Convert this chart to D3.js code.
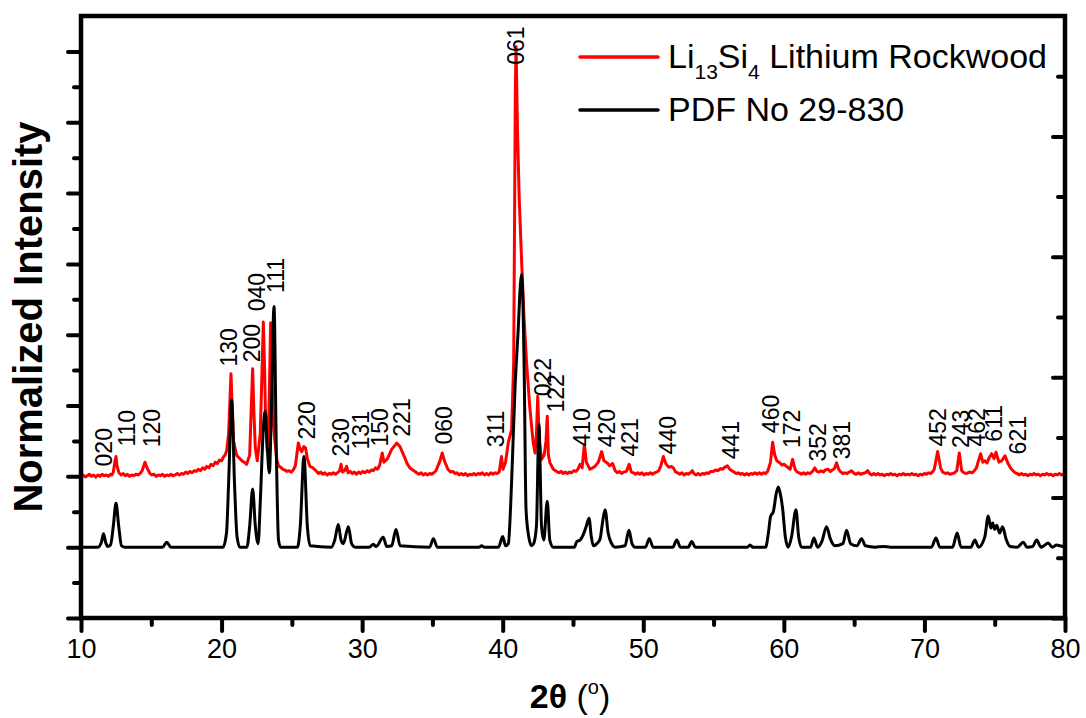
<!DOCTYPE html>
<html>
<head>
<meta charset="utf-8">
<script src="https://cdn.jsdelivr.net/npm/d3@7"></script>
<style>
  html, body { margin: 0; padding: 0; background: #ffffff; }
  svg { display: block; font-family: "Liberation Sans", Arial, Helvetica, sans-serif; }
</style>
</head>
<body>
<svg id="chart" width="1086" height="718"></svg>
<script>
// Measured XRD pattern of Li13Si4 (offset by 2 units): [2theta, normalized intensity]
const rockwood = [
  [10.0,2.00],[10.15,2.02],[10.3,1.99],[10.45,2.01],[10.6,2.03],[10.75,2.00],[10.9,2.02],[11.05,1.99],
  [11.2,2.02],[11.35,2.00],[11.5,2.03],[11.65,2.01],[11.8,2.02],[11.95,2.00],[12.1,2.03],[12.2,2.02],
  [12.3,2.06],[12.42,2.22],[12.49,2.28],[12.56,2.15],[12.7,2.05],[12.85,2.02],[13.0,2.04],[13.15,2.01],
  [13.3,2.03],[13.45,2.00],[13.6,2.02],[13.75,2.01],[13.9,2.03],[14.05,2.02],[14.2,2.04],[14.35,2.08],
  [14.55,2.20],[14.7,2.12],[14.9,2.04],[15.05,2.02],[15.2,2.03],[15.35,2.00],[15.5,2.02],[15.65,2.01],
  [15.8,2.03],[15.95,2.00],[16.1,2.02],[16.25,2.01],[16.4,2.03],[16.55,2.01],[16.7,2.02],[16.85,2.04],
  [17.0,2.02],[17.15,2.04],[17.3,2.03],[17.45,2.06],[17.6,2.04],[17.75,2.07],[17.9,2.05],[18.05,2.08],
  [18.2,2.07],[18.35,2.10],[18.5,2.08],[18.65,2.12],[18.8,2.10],[18.95,2.14],[19.1,2.12],[19.25,2.17],
  [19.4,2.15],[19.55,2.20],[19.7,2.18],[19.85,2.23],[20.0,2.22],[20.15,2.28],[20.25,2.30],[20.36,2.36],
  [20.5,2.60],[20.6,3.10],[20.67,3.45],[20.75,3.00],[20.85,2.50],[21.07,2.30],[21.2,2.27],[21.3,2.25],
  [21.45,2.22],[21.6,2.20],[21.78,2.17],[22.0,2.30],[22.1,2.90],[22.21,3.52],[22.3,2.90],[22.4,2.40],
  [22.54,2.22],[22.75,2.60],[22.88,3.50],[22.97,4.18],[23.05,3.60],[23.12,2.90],[23.26,2.35],[23.38,3.00],
  [23.49,4.17],[23.58,3.40],[23.7,2.70],[23.92,2.24],[24.05,2.15],[24.2,2.13],[24.35,2.10],[24.5,2.09],
  [24.63,2.07],[24.8,2.08],[24.95,2.06],[25.1,2.09],[25.25,2.15],[25.46,2.47],[25.6,2.38],[25.7,2.35],
  [25.85,2.42],[25.98,2.40],[26.1,2.25],[26.29,2.14],[26.5,2.12],[26.65,2.09],[26.76,2.07],[26.9,2.04],
  [27.05,2.06],[27.2,2.03],[27.35,2.05],[27.5,2.02],[27.65,2.04],[27.8,2.03],[27.95,2.05],[28.1,2.03],
  [28.25,2.05],[28.4,2.08],[28.5,2.17],[28.6,2.06],[28.75,2.08],[28.9,2.14],[29.0,2.05],[29.15,2.07],
  [29.3,2.04],[29.45,2.06],[29.6,2.03],[29.75,2.06],[29.9,2.04],[30.05,2.07],[30.2,2.05],[30.35,2.08],
  [30.5,2.06],[30.65,2.09],[30.8,2.08],[30.95,2.12],[31.1,2.10],[31.25,2.16],[31.43,2.33],[31.55,2.20],
  [31.8,2.25],[32.1,2.38],[32.46,2.47],[32.69,2.42],[33.0,2.28],[33.2,2.18],[33.4,2.12],[33.6,2.09],
  [33.88,2.05],[34.05,2.03],[34.2,2.05],[34.35,2.02],[34.5,2.04],[34.65,2.02],[34.8,2.04],[34.95,2.03],
  [35.1,2.05],[35.25,2.08],[35.5,2.20],[35.7,2.33],[35.85,2.22],[36.1,2.10],[36.3,2.06],[36.45,2.07],
  [36.6,2.04],[36.75,2.05],[36.9,2.02],[37.05,2.04],[37.2,2.02],[37.35,2.04],[37.5,2.01],[37.65,2.03],
  [37.8,2.02],[37.95,2.04],[38.1,2.02],[38.25,2.04],[38.4,2.03],[38.55,2.05],[38.7,2.02],[38.85,2.04],
  [39.0,2.02],[39.15,2.05],[39.3,2.03],[39.45,2.05],[39.6,2.04],[39.75,2.06],[39.91,2.28],[40.02,2.10],
  [40.2,2.20],[40.4,2.48],[40.63,2.66],[40.78,3.60],[40.9,7.50],[40.95,8.07],[41.05,6.90],[41.17,5.95],
  [41.35,5.01],[41.5,4.31],[41.7,3.60],[41.92,2.99],[42.17,2.47],[42.3,2.33],[42.4,2.60],[42.49,3.13],
  [42.6,2.50],[42.77,2.24],[42.95,2.30],[43.08,2.50],[43.17,2.85],[43.25,2.30],[43.36,2.19],[43.6,2.10],
  [43.84,2.07],[44.0,2.05],[44.15,2.07],[44.3,2.04],[44.45,2.06],[44.6,2.04],[44.75,2.06],[44.9,2.05],
  [45.05,2.08],[45.2,2.07],[45.35,2.10],[45.5,2.17],[45.65,2.12],[45.81,2.45],[45.95,2.20],[46.2,2.10],
  [46.4,2.12],[46.56,2.14],[46.8,2.20],[47.04,2.35],[47.2,2.22],[47.44,2.19],[47.6,2.15],[47.82,2.18],
  [48.0,2.08],[48.15,2.05],[48.3,2.07],[48.45,2.04],[48.6,2.06],[48.8,2.07],[49.0,2.17],[49.15,2.06],
  [49.3,2.05],[49.45,2.03],[49.6,2.05],[49.75,2.03],[49.9,2.05],[50.05,2.02],[50.2,2.04],[50.35,2.03],
  [50.5,2.05],[50.65,2.03],[50.8,2.05],[50.95,2.06],[51.1,2.08],[51.25,2.15],[51.43,2.28],[51.6,2.18],
  [51.8,2.13],[52.0,2.14],[52.14,2.12],[52.3,2.06],[52.45,2.05],[52.6,2.03],[52.75,2.05],[52.9,2.02],
  [53.05,2.04],[53.2,2.03],[53.35,2.05],[53.49,2.08],[53.6,2.04],[53.75,2.02],[53.9,2.04],[54.05,2.02],
  [54.2,2.04],[54.35,2.03],[54.5,2.05],[54.65,2.04],[54.8,2.07],[54.98,2.07],[55.15,2.09],[55.3,2.08],
  [55.5,2.11],[55.65,2.10],[55.8,2.13],[55.98,2.15],[56.15,2.10],[56.3,2.08],[56.45,2.06],[56.6,2.04],
  [56.75,2.05],[56.9,2.03],[57.05,2.04],[57.2,2.02],[57.35,2.04],[57.5,2.02],[57.65,2.04],[57.8,2.03],
  [57.95,2.05],[58.1,2.03],[58.25,2.05],[58.4,2.03],[58.55,2.05],[58.7,2.04],[58.85,2.07],[59.05,2.20],
  [59.2,2.48],[59.35,2.30],[59.5,2.22],[59.72,2.19],[59.85,2.16],[60.0,2.17],[60.2,2.14],[60.45,2.10],
  [60.62,2.24],[60.8,2.10],[60.95,2.06],[61.1,2.05],[61.25,2.03],[61.4,2.05],[61.55,2.03],[61.7,2.05],
  [61.85,2.04],[62.0,2.06],[62.21,2.12],[62.35,2.07],[62.5,2.06],[62.65,2.08],[62.8,2.06],[62.95,2.09],
  [63.16,2.10],[63.3,2.07],[63.45,2.09],[63.6,2.11],[63.75,2.19],[63.9,2.10],[64.05,2.06],[64.2,2.04],
  [64.35,2.05],[64.5,2.04],[64.65,2.06],[64.82,2.08],[65.0,2.04],[65.15,2.03],[65.3,2.05],[65.45,2.03],
  [65.6,2.04],[65.8,2.05],[65.96,2.08],[66.1,2.04],[66.25,2.02],[66.4,2.04],[66.55,2.02],[66.7,2.04],
  [66.85,2.02],[67.0,2.03],[67.15,2.01],[67.3,2.03],[67.45,2.02],[67.6,2.04],[67.75,2.02],[67.9,2.03],
  [68.05,2.01],[68.2,2.03],[68.35,2.02],[68.5,2.04],[68.65,2.02],[68.8,2.03],[68.95,2.02],[69.1,2.04],
  [69.25,2.02],[69.4,2.03],[69.55,2.01],[69.7,2.03],[69.85,2.02],[70.0,2.04],[70.15,2.03],[70.3,2.05],
  [70.45,2.04],[70.6,2.07],[70.7,2.10],[70.94,2.35],[71.15,2.12],[71.3,2.06],[71.5,2.04],[71.65,2.05],
  [71.8,2.03],[72.0,2.04],[72.15,2.05],[72.3,2.08],[72.48,2.33],[72.65,2.08],[72.8,2.05],[73.0,2.04],
  [73.2,2.06],[73.4,2.05],[73.55,2.08],[73.7,2.12],[73.83,2.21],[74.0,2.32],[74.15,2.20],[74.3,2.22],
  [74.45,2.19],[74.6,2.26],[74.78,2.32],[74.95,2.25],[75.09,2.34],[75.3,2.20],[75.5,2.22],[75.73,2.29],
  [75.95,2.18],[76.15,2.11],[76.3,2.08],[76.45,2.05],[76.6,2.04],[76.75,2.02],[76.9,2.04],[77.05,2.02],
  [77.2,2.03],[77.35,2.01],[77.5,2.03],[77.65,2.02],[77.8,2.04],[77.95,2.02],[78.1,2.03],[78.25,2.01],
  [78.4,2.03],[78.55,2.02],[78.7,2.04],[78.85,2.02],[79.0,2.03],[79.15,2.01],[79.3,2.03],[79.45,2.02],
  [79.6,2.04],[79.75,2.02],[79.9,2.03],[80.0,2.02]
];

// Reference pattern PDF 29-830 (offset by 1 unit): [2theta, normalized intensity]
const pdf29830 = [
  [10.0,1.00],[11.2,1.00],[11.45,1.07],[11.6,1.19],[11.75,1.07],[11.9,1.01],[12.1,1.03],[12.3,1.30],
  [12.49,1.62],[12.68,1.30],[12.88,1.02],[13.1,1.00],[15.8,1.00],[16.1,1.07],[16.4,1.00],[20.1,1.00],
  [20.35,1.20],[20.5,1.90],[20.72,3.08],[20.92,1.90],[21.1,1.15],[21.3,1.00],[21.8,1.00],[22.0,1.30],
  [22.21,1.82],[22.4,1.30],[22.6,1.05],[22.76,1.67],[22.95,2.60],[23.09,2.92],[23.25,2.40],[23.4,2.05],
  [23.55,3.00],[23.73,4.40],[23.9,2.30],[24.05,1.10],[24.2,1.00],[25.4,1.00],[25.6,1.30],[25.86,2.28],
  [26.1,1.30],[26.3,1.02],[27.8,1.00],[28.05,1.10],[28.3,1.32],[28.5,1.10],[28.66,1.05],[29.02,1.29],
  [29.25,1.05],[29.5,1.00],[30.5,1.00],[30.8,1.04],[31.0,1.01],[31.5,1.14],[31.75,1.01],[32.1,1.02],
  [32.41,1.25],[32.7,1.02],[34.8,1.00],[35.07,1.12],[35.35,1.00],[38.3,1.00],[38.5,1.02],[38.7,1.00],
  [39.7,1.00],[40.0,1.15],[40.2,1.02],[40.4,1.05],[40.63,1.91],[40.87,3.22],[41.1,4.07],[41.27,4.74],
  [41.35,4.85],[41.52,3.60],[41.66,1.53],[41.85,1.15],[42.05,1.02],[42.2,1.05],[42.4,1.30],[42.58,2.73],
  [42.76,1.30],[42.92,1.10],[43.17,1.65],[43.35,1.10],[43.6,1.00],[45.1,1.00],[45.27,1.08],[45.5,1.10],
  [45.74,1.18],[45.95,1.30],[46.14,1.41],[46.3,1.15],[46.45,1.02],[46.7,1.05],[46.93,1.12],[47.1,1.35],
  [47.28,1.53],[47.5,1.20],[47.75,1.05],[48.0,1.00],[48.7,1.02],[48.98,1.24],[49.2,1.05],[49.41,1.00],
  [50.15,1.00],[50.43,1.12],[50.7,1.00],[52.1,1.00],[52.38,1.10],[52.65,1.00],[53.2,1.00],[53.44,1.08],
  [53.7,1.00],[57.4,1.00],[57.59,1.03],[57.8,1.00],[58.7,1.00],[58.9,1.20],[59.05,1.43],[59.25,1.50],
  [59.45,1.75],[59.6,1.85],[59.75,1.75],[59.91,1.55],[60.1,1.15],[60.31,1.00],[60.55,1.15],[60.86,1.53],
  [61.05,1.15],[61.26,1.00],[61.9,1.00],[62.14,1.13],[62.4,1.00],[62.7,1.08],[63.04,1.29],[63.3,1.12],
  [63.63,1.02],[64.2,1.05],[64.46,1.24],[64.75,1.05],[65.2,1.02],[65.53,1.12],[65.8,1.02],[66.5,1.00],
  [67.07,1.01],[67.6,1.00],[70.5,1.00],[70.82,1.13],[71.1,1.00],[72.0,1.00],[72.33,1.20],[72.6,1.00],
  [73.3,1.00],[73.59,1.10],[73.85,1.00],[74.3,1.15],[74.54,1.44],[74.72,1.27],[74.85,1.34],[75.0,1.25],
  [75.14,1.31],[75.35,1.20],[75.56,1.29],[75.8,1.12],[76.1,1.01],[76.6,1.00],[77.03,1.07],[77.3,1.00],
  [77.7,1.01],[77.98,1.10],[78.3,1.00],[78.5,1.02],[78.8,1.06],[79.1,1.00],[79.4,1.03],[79.64,1.02],
  [80.0,1.00]
];

// Miller-index labels: text, 2theta position, intensity level where the label starts
const hklText = ["020","110","120","130","200","040","111","220","230","131","150","221","060","311","061",
                 "022","122","410","420","421","440","441","460","172","352","381","452","243","462","611","621"];
const hklPos  = [11.64,13.25,15.05,20.53,22.16,22.52,23.87,26.06,28.5,29.92,31.27,32.84,35.82,39.52,40.92,
                 42.83,43.79,45.62,47.4,49.06,51.72,56.24,59.06,60.58,62.41,64.11,70.93,72.6,73.72,74.95,76.66];
const hklLevel = [2.14,2.42,2.41,3.55,3.61,4.33,4.59,2.52,2.28,2.38,2.42,2.56,2.45,2.41,7.81,
                 3.13,2.90,2.42,2.41,2.28,2.31,2.24,2.61,2.40,2.21,2.24,2.42,2.40,2.42,2.49,2.31];

// Axis ticks
const xMajorTicks = [10,20,30,40,50,60,70,80];
const xMinorTicks = [15,25,35,45,55,65,75];
const yLeftMajor = [0,1,2,3,4,5,6,7,8];
const yLeftMinor = [0.5,1.5,2.5,3.5,4.5,5.5,6.5,7.5];
const yRightMajor = [0,2,4,6,8];
const yRightMinor = [1,3,5,7,9];

const seriesNames = ["Lithium Rockwood", "PDF No 29-830"];
const seriesColors = ["#ff0000", "#000000"];

const svg = d3.select("#chart");
const plotLeft = 81, plotRight = 1065, plotTop = 16, plotBottom = 618;

const x = d3.scaleLinear().domain([10, 80]).range([plotLeft, plotRight]);
const y = d3.scaleLinear().domain([0, 8.5]).range([plotBottom, plotTop]);
const yR = d3.scaleLinear().domain([0, 10]).range([plotBottom, plotTop]);

const line = d3.line().x(d => x(d[0])).y(d => y(d[1]));
const smooth = d3.line().x(d => x(d[0])).y(d => y(d[1])).curve(d3.curveMonotoneX);

// traces
svg.append("path").datum(rockwood).attr("d", line)
  .attr("fill", "none").attr("stroke", seriesColors[0]).attr("stroke-width", 3).attr("stroke-linejoin", "round");
svg.append("path").datum(pdf29830).attr("d", smooth)
  .attr("fill", "none").attr("stroke", seriesColors[1]).attr("stroke-width", 3).attr("stroke-linejoin", "round");

// axes
function styleAxis(g) {
  g.select(".domain").remove();
  g.selectAll(".tick line").attr("stroke", "#000").attr("stroke-width", 4).attr("stroke-linecap", "round");
}
const bottomAxis = svg.append("g").attr("transform", `translate(0,${plotBottom})`)
  .call(d3.axisBottom(x).tickValues(xMajorTicks).tickSize(13).tickPadding(8).tickFormat(d3.format("d")));
styleAxis(bottomAxis);
bottomAxis.selectAll(".tick text").attr("font-size", 27).attr("fill", "#000")
  .attr("font-family", "'Liberation Sans', Arial, sans-serif");
svg.append("g").attr("transform", `translate(0,${plotBottom})`)
  .call(d3.axisBottom(x).tickValues(xMinorTicks).tickSize(7).tickFormat("")).call(styleAxis);

svg.append("g").attr("transform", `translate(${plotLeft},0)`)
  .call(d3.axisLeft(y).tickValues(yLeftMajor).tickSize(13).tickFormat("")).call(styleAxis);
svg.append("g").attr("transform", `translate(${plotLeft},0)`)
  .call(d3.axisLeft(y).tickValues(yLeftMinor).tickSize(7).tickFormat("")).call(styleAxis);

svg.append("g").attr("transform", `translate(${plotRight},0)`)
  .call(d3.axisLeft(yR).tickValues(yRightMajor).tickSize(12).tickFormat("")).call(styleAxis);
svg.append("g").attr("transform", `translate(${plotRight},0)`)
  .call(d3.axisLeft(yR).tickValues(yRightMinor).tickSize(7).tickFormat("")).call(styleAxis);

// frame
svg.append("rect").attr("x", plotLeft).attr("y", plotTop)
  .attr("width", plotRight - plotLeft).attr("height", plotBottom - plotTop)
  .attr("fill", "none").attr("stroke", "#000").attr("stroke-width", 4.5);

// peak labels
svg.append("g").selectAll("text").data(hklText).join("text")
  .attr("transform", (d, i) => `translate(${x(hklPos[i])},${y(hklLevel[i])}) rotate(-90)`)
  .attr("dy", "0.36em")
  .attr("font-size", 23)
  .attr("fill", "#000")
  .text(d => d);

// axis titles
svg.append("text")
  .attr("transform", `translate(42,${(plotTop + plotBottom) / 2}) rotate(-90)`)
  .attr("text-anchor", "middle")
  .attr("font-size", 40).attr("font-weight", "bold").attr("fill", "#000")
  .text("Normalized Intensity");

const xt = svg.append("text")
  .attr("x", 570).attr("y", 708)
  .attr("text-anchor", "middle").attr("font-size", 34).attr("fill", "#000");
xt.append("tspan").attr("font-weight", "bold").text("2θ");
xt.append("tspan").text(" (");
xt.append("tspan").attr("font-size", 20).attr("dy", -14).text("o");
xt.append("tspan").attr("dy", 14).text(")");

// legend
const legend = svg.append("g");
[0, 1].forEach(i => {
  const ly = 57 + i * 53;
  legend.append("line").attr("x1", 580).attr("x2", 658).attr("y1", ly).attr("y2", ly)
    .attr("stroke", seriesColors[i]).attr("stroke-width", 3.5).attr("stroke-linecap", "round");
});
const l1 = legend.append("text").attr("x", 668).attr("y", 68).attr("font-size", 34).attr("fill", "#000");
l1.append("tspan").text("Li");
l1.append("tspan").attr("font-size", 21).attr("dy", 11).text("13");
l1.append("tspan").attr("dy", -11).text("Si");
l1.append("tspan").attr("font-size", 21).attr("dy", 11).text("4");
l1.append("tspan").attr("dy", -11).text(" " + seriesNames[0]);
legend.append("text").attr("x", 668).attr("y", 121).attr("font-size", 34).attr("fill", "#000")
  .text(seriesNames[1]);
</script>
</body>
</html>
